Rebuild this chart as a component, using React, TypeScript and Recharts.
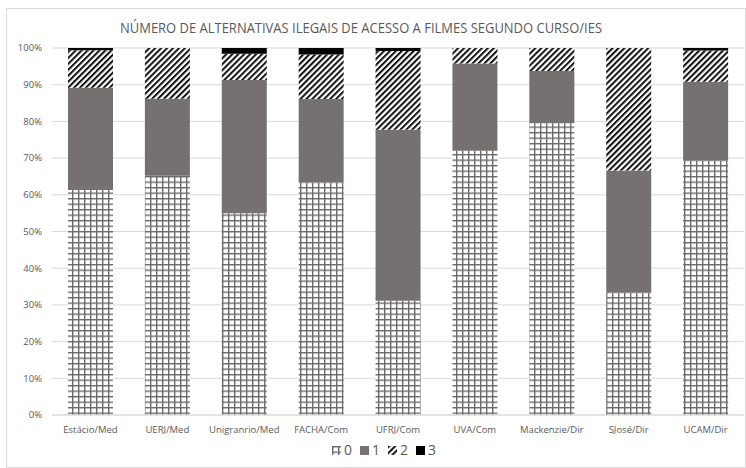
import React from 'react';
import { BarChart, Bar, XAxis, YAxis, CartesianGrid } from 'recharts';

const categories = ['Estácio/Med', 'UERJ/Med', 'Unigranrio/Med', 'FACHA/Com', 'UFRJ/Com', 'UVA/Com', 'Mackenzie/Dir', 'SJosé/Dir', 'UCAM/Dir'];
const s0 = [61.3, 65.2, 55.0, 63.4, 31.1, 72.0, 79.5, 33.3, 69.3];
const s1 = [27.9, 21.0, 36.3, 22.7, 46.6, 23.8, 14.2, 33.3, 21.5];
const s2 = [10.2, 13.8, 7.1, 12.1, 21.5, 4.2, 6.3, 33.4, 8.5];
const s3 = [0.6, 0.0, 1.6, 1.8, 0.8, 0.0, 0.0, 0.0, 0.7];
const yTicks = [0, 0.1, 0.2, 0.3, 0.4, 0.5, 0.6, 0.7, 0.8, 0.9, 1];
const seriesNames = ['0', '1', '2', '3'];
const title = 'NÚMERO DE ALTERNATIVAS ILEGAIS DE ACESSO A FILMES SEGUNDO CURSO/IES';

const data = categories.map((c, i) => ({ name: c, v0: s0[i], v1: s1[i], v2: s2[i], v3: s3[i] }));

const FONT = '"Open Sans", "Liberation Sans", sans-serif';
const TXT = '#595959';

const Defs = ({ p }: { p: string }) => (
  <defs>
    <pattern id={p + 'grid'} patternUnits="userSpaceOnUse" width={6} height={5.5}>
      <rect width={6} height={5.5} fill="#ffffff" />
      <line x1={0.7} y1={0} x2={0.7} y2={5.5} stroke="#6a6a6a" strokeWidth={1.4} />
      <line x1={0} y1={0.7} x2={6} y2={0.7} stroke="#6a6a6a" strokeWidth={1.4} />
    </pattern>
    <pattern id={p + 'hatch'} patternUnits="userSpaceOnUse" width={4.2} height={4.2} patternTransform="rotate(45)">
      <rect width={4.2} height={4.2} fill="#ffffff" />
      <rect width={2} height={4.2} fill="#111111" />
    </pattern>
  </defs>
);

const fills = ['url(#cgrid)', '#767171', 'url(#chatch)', '#000000'];
const legendFills = ['url(#lgrid)', '#767171', 'url(#lhatch)', '#000000'];

export default function App() {
  return (
    <div style={{ position: 'absolute', left: 0, top: 0, width: 746, height: 468, background: '#fff', fontFamily: FONT }}>
      <div style={{ position: 'absolute', left: 6, top: 8, width: 738, height: 458, border: '1px solid #d9d9d9' }} />
      <svg style={{ position: 'absolute', left: 0, top: 0 }} width={746} height={40}>
        <text x={361} y={33} textAnchor="middle" fontFamily={FONT} fontSize={14} fill={TXT} textLength={482} lengthAdjust="spacingAndGlyphs">{title}</text>
      </svg>
      <div style={{ position: 'absolute', left: 0, top: 0 }}>
        <BarChart width={746} height={468} data={data} stackOffset="expand" margin={{ top: 48, right: 2, bottom: 23, left: 8 }} barSize={45}>
          <Defs p="c" />
          <CartesianGrid vertical={false} stroke="#d9d9d9" strokeWidth={1} />
          <XAxis dataKey="name" height={30} tickLine={false} axisLine={{ stroke: '#d9d9d9' }} tickMargin={5} tick={{ fontSize: 9.5, fill: TXT, fontFamily: FONT }} interval={0} />
          <YAxis width={44} ticks={yTicks} domain={[0, 1]} tickFormatter={(v: number) => Math.round(v * 100) + '%'} axisLine={false} tickLine={false} tickMargin={4} tick={{ fontSize: 9.5, fill: TXT, fontFamily: FONT }} />
          <Bar dataKey="v0" name={seriesNames[0]} stackId="a" fill={fills[0]} isAnimationActive={false} />
          <Bar dataKey="v1" name={seriesNames[1]} stackId="a" fill={fills[1]} isAnimationActive={false} />
          <Bar dataKey="v2" name={seriesNames[2]} stackId="a" fill={fills[2]} isAnimationActive={false} />
          <Bar dataKey="v3" name={seriesNames[3]} stackId="a" fill={fills[3]} isAnimationActive={false} />
        </BarChart>
      </div>
      <div style={{ position: 'absolute', left: 0, width: 746, top: 441, display: 'flex', justifyContent: 'center', paddingLeft: 22, boxSizing: 'border-box' }}>
        <svg width={0} height={0} style={{ position: 'absolute' }}><Defs p="l" /></svg>
        {seriesNames.map((n, i) => (
          <div key={n} style={{ display: 'flex', alignItems: 'center', marginRight: i < 3 ? 8 : 0 }}>
            <svg width={9} height={9} style={{ marginRight: 3 }}>
              <rect width={9} height={9} fill={legendFills[i]} />
            </svg>
            <span style={{ fontSize: 14, color: TXT, lineHeight: '18px' }}>{n}</span>
          </div>
        ))}
      </div>
    </div>
  );
}
